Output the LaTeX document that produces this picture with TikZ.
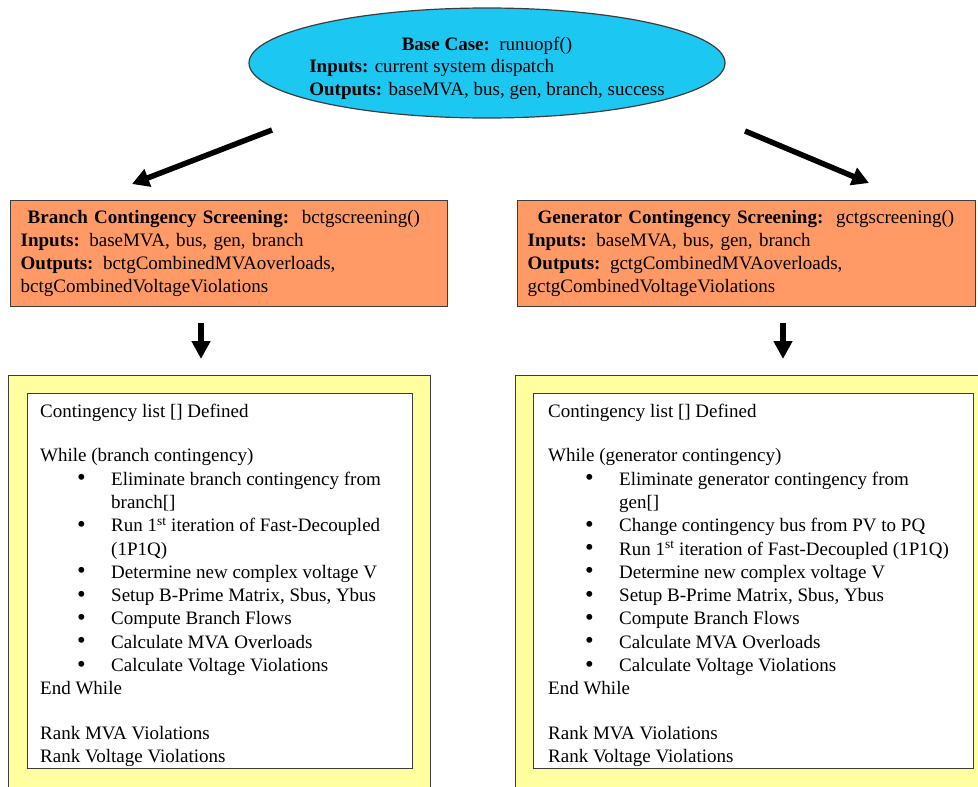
\documentclass[tikz,border=0pt]{standalone}
\usepackage{fontspec}
\setmainfont{Liberation Serif}
\usepackage{tikz}
\usetikzlibrary{shapes.geometric, arrows.meta, positioning}
\definecolor{basecyan}{RGB}{28,200,242}
\definecolor{screenorange}{RGB}{255,153,102}
\definecolor{listyellow}{RGB}{255,255,160}
\definecolor{edgegray}{RGB}{60,60,60}
\newcommand{\ctgitem}[1]{\hspace*{37pt}\makebox[34pt][l]{\smash{\raisebox{-0.5pt}{\scalebox{1.3}{\textbullet}}}}#1}
\newcommand{\ctgcont}[1]{\hspace*{71pt}#1}

\begin{document}
\begin{tikzpicture}[
    x=1pt, y=-1pt,
    font=\fontsize{19}{23}\selectfont,
    bigarrow/.style={-{Triangle[length=17pt,width=18pt]}, line width=5.5pt},
    downarrow/.style={-{Triangle[length=18pt,width=18pt]}, line width=5.5pt},
    screenbox/.style={rectangle, draw=edgegray, line width=1.4pt, fill=screenorange, anchor=north west, minimum width=#1, text width=#1-20pt, minimum height=106pt, inner xsep=10pt, align=left},
    outerbox/.style={rectangle, draw=edgegray, line width=1.2pt, fill=listyellow, anchor=north west, minimum height=420pt},
    innerbox/.style={rectangle, draw=edgegray, line width=1.2pt, fill=white, anchor=north west, minimum height=375pt},
    listtext/.style={anchor=north west, inner sep=0pt, align=left, font=\fontsize{19}{23.3}\selectfont},
]
    \useasboundingbox (0,0) rectangle (978,787);

    % Base case
    \node[ellipse, draw=edgegray, line width=1.2pt, fill=basecyan, minimum width=476pt, minimum height=110pt, inner sep=0pt] (base) at (487,63) {};
    \node[inner sep=0pt, font=\fontsize{19}{22.5}\selectfont] (basetext) at ([yshift=-5pt]base.center)
        {\begin{tabular}{@{}l@{}}
         \multicolumn{1}{@{}c@{}}{\textbf{Base Case:}\ \ runuopf()}\\
         \textbf{Inputs:} current system dispatch\\
         \textbf{Outputs:} baseMVA, bus, gen, branch, success
         \end{tabular}};

    % Screening boxes
    \node[screenbox=437pt] (bscreen) at (10,200)
        {\hspace*{7pt}\textbf{Branch Contingency Screening:}\ \ bctgscreening()\\
         \textbf{Inputs:} baseMVA, bus, gen, branch\\
         \textbf{Outputs:} bctgCombinedMVAoverloads,\\
         bctgCombinedVoltageViolations};
    \node[screenbox=458pt] (gscreen) at (517,200)
        {\hspace*{10pt}\textbf{Generator Contingency Screening:}\ \ gctgscreening()\\
         \textbf{Inputs:} baseMVA, bus, gen, branch\\
         \textbf{Outputs:} gctgCombinedMVAoverloads,\\
         gctgCombinedVoltageViolations};

    % Arrows
    \coordinate (btail) at (272,130);
    \coordinate (bhead) at (132,184);
    \coordinate (gtail) at (745,131);
    \coordinate (ghead) at (869,183);
    \draw[bigarrow] (btail) -- (bhead);
    \draw[bigarrow] (gtail) -- (ghead);

    \coordinate (bdtail) at (201,323);
    \coordinate (bdhead) at (201,359);
    \coordinate (gdtail) at (783,323);
    \coordinate (gdhead) at (783,359);
    \draw[downarrow] (bdtail) -- (bdhead);
    \draw[downarrow] (gdtail) -- (gdhead);

    % Branch loop
    \node[outerbox, minimum width=422pt] (bouter) at (8,375) {};
    \node[innerbox, minimum width=385pt] (binner) at (27,393) {};
    \node[listtext] (blist) at (40,404)
        {Contingency list [] Defined\\[21pt]
         While (branch contingency)\\
         \ctgitem{Eliminate branch contingency from}\\
         \ctgcont{branch[]}\\
         \ctgitem{Run 1\textsuperscript{st} iteration of Fast-Decoupled}\\
         \ctgcont{(1P1Q)}\\
         \ctgitem{Determine new complex voltage V}\\
         \ctgitem{Setup B-Prime Matrix, Sbus, Ybus}\\
         \ctgitem{Compute Branch Flows}\\
         \ctgitem{Calculate MVA Overloads}\\
         \ctgitem{Calculate Voltage Violations}\\
         End While\\[21pt]
         Rank MVA Violations\\
         Rank Voltage Violations};

    % Generator loop
    \node[outerbox, minimum width=470pt] (gouter) at (515,375) {};
    \node[innerbox, minimum width=440pt] (ginner) at (533,393) {};
    \node[listtext] (glist) at (548,404)
        {Contingency list [] Defined\\[21pt]
         While (generator contingency)\\
         \ctgitem{Eliminate generator contingency from}\\
         \ctgcont{gen[]}\\
         \ctgitem{Change contingency bus from PV to PQ}\\
         \ctgitem{Run 1\textsuperscript{st} iteration of Fast-Decoupled (1P1Q)}\\
         \ctgitem{Determine new complex voltage V}\\
         \ctgitem{Setup B-Prime Matrix, Sbus, Ybus}\\
         \ctgitem{Compute Branch Flows}\\
         \ctgitem{Calculate MVA Overloads}\\
         \ctgitem{Calculate Voltage Violations}\\
         End While\\[21pt]
         Rank MVA Violations\\
         Rank Voltage Violations};
\end{tikzpicture}
\end{document}
